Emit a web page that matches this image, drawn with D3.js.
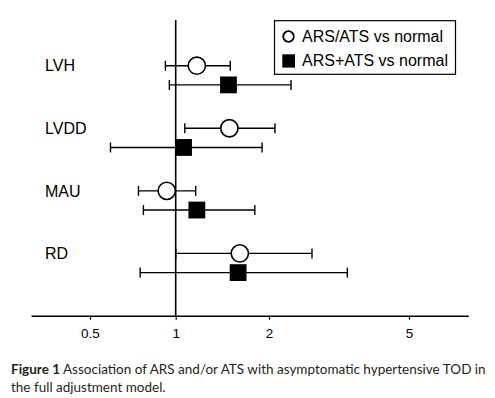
<!DOCTYPE html>
<html>
<head>
<meta charset="utf-8">
<script src="https://cdn.jsdelivr.net/npm/d3@7"></script>
<style>
  body { margin: 0; background: #fff; }
  svg { display: block; }
  .caption { font-family: Lato, "Open Sans", sans-serif; font-size: 13.5px; fill: #231f20; }
</style>
</head>
<body>
<script>
// Width and height
var w = 495;
var h = 398;

// data
var outcomes = ["LVH", "LVDD", "MAU", "RD"];
var seriesNames = ["ARS/ATS vs normal", "ARS+ATS vs normal"];
var orEst1 = [1.17, 1.49, 0.93, 1.61];
var orLow1 = [0.92, 1.07, 0.74, 1.00];
var orHigh1 = [1.50, 2.08, 1.16, 2.65];
var orEst2 = [1.48, 1.06, 1.17, 1.59];
var orLow2 = [0.95, 0.59, 0.77, 0.75];
var orHigh2 = [2.31, 1.90, 1.80, 3.34];
var tickValues = [0.5, 1, 2, 5];

var series = [
    { name: seriesNames[0], est: orEst1, lo: orLow1, hi: orHigh1, shape: "circle", dy: -9.6 },
    { name: seriesNames[1], est: orEst2, lo: orLow2, hi: orHigh2, shape: "square", dy: 9.6 }
];

// log scale, piecewise to follow the printed axis
var xScale = d3.scaleLog()
    .domain([0.31, 0.5, 1, 2, 5, 7.37])
    .range([31, 90, 175.7, 269, 409, 468.3]);

var yScale = d3.scalePoint()
    .domain(outcomes)
    .range([75.3, 263]);

var svg = d3.select("body")
    .append("svg")
    .attr("width", w)
    .attr("height", h);

// axis
var xAxis = d3.axisBottom(xScale)
    .tickValues(tickValues)
    .tickFormat(d3.format(""))
    .tickSizeInner(4)
    .tickSizeOuter(0);

var gx = svg.append("g")
    .attr("transform", "translate(0,315.7)")
    .call(xAxis);
gx.select(".domain").attr("stroke", "#000").attr("stroke-width", 1.6);
gx.selectAll(".tick line").attr("stroke", "#000").attr("stroke-width", 1.2);
gx.selectAll(".tick text")
    .attr("fill", "#000")
    .attr("font-family", "Liberation Sans, Arial, sans-serif")
    .attr("font-size", "13.5px")
    .attr("dy", "1.12em");

// reference line at OR = 1
svg.append("line")
    .attr("x1", xScale(1)).attr("x2", xScale(1))
    .attr("y1", 20).attr("y2", 315.7)
    .attr("stroke", "#000")
    .attr("stroke-width", 1.6);

// row labels
svg.selectAll("text.row")
    .data(outcomes)
    .enter()
    .append("text")
    .attr("class", "row")
    .attr("x", 45)
    .attr("y", d => yScale(d) - 9.6)
    .attr("dy", "0.36em")
    .attr("font-family", "Liberation Sans, Arial, sans-serif")
    .attr("font-size", "16px")
    .text(d => d);

// error bars and markers
series.forEach(function(s) {
    var g = svg.append("g");
    var rows = outcomes.map((o, i) => ({ o: o, est: s.est[i], lo: s.lo[i], hi: s.hi[i] }));

    g.selectAll("line.ci")
        .data(rows)
        .enter()
        .append("line")
        .attr("x1", d => xScale(d.lo))
        .attr("x2", d => xScale(d.hi))
        .attr("y1", d => yScale(d.o) + s.dy)
        .attr("y2", d => yScale(d.o) + s.dy)
        .attr("stroke", "#000")
        .attr("stroke-width", 1.4);

    ["lo", "hi"].forEach(function(k) {
        g.selectAll("line.cap-" + k)
            .data(rows)
            .enter()
            .append("line")
            .attr("x1", d => xScale(d[k]))
            .attr("x2", d => xScale(d[k]))
            .attr("y1", d => yScale(d.o) + s.dy - 5)
            .attr("y2", d => yScale(d.o) + s.dy + 5)
            .attr("stroke", "#000")
            .attr("stroke-width", 1.4);
    });

    if (s.shape == "circle") {
        g.selectAll("circle")
            .data(rows)
            .enter()
            .append("circle")
            .attr("cx", d => xScale(d.est))
            .attr("cy", d => yScale(d.o) + s.dy)
            .attr("r", 8.6)
            .attr("fill", "#fff")
            .attr("stroke", "#000")
            .attr("stroke-width", 1.6);
    } else {
        g.selectAll("rect")
            .data(rows)
            .enter()
            .append("rect")
            .attr("x", d => xScale(d.est) - 8.4)
            .attr("y", d => yScale(d.o) + s.dy - 8.4)
            .attr("width", 16.8)
            .attr("height", 16.8)
            .attr("fill", "#000");
    }
});

// legend
var legend = svg.append("g");
legend.append("rect")
    .attr("x", 274.5).attr("y", 20.7)
    .attr("width", 181).attr("height", 53.6)
    .attr("fill", "#fff")
    .attr("stroke", "#000")
    .attr("stroke-width", 1.2);
legend.append("circle")
    .attr("cx", 288.5).attr("cy", 36.5).attr("r", 5.3)
    .attr("fill", "#fff").attr("stroke", "#000").attr("stroke-width", 1.8);
legend.append("rect")
    .attr("x", 282.3).attr("y", 54.3).attr("width", 12.7).attr("height", 13.3)
    .attr("fill", "#000");
legend.selectAll("text")
    .data(seriesNames)
    .enter()
    .append("text")
    .attr("x", 302)
    .attr("y", (d, i) => 36.5 + i * 24)
    .attr("dy", "0.36em")
    .attr("font-family", "Liberation Sans, Arial, sans-serif")
    .attr("font-size", "16px")
    .text(d => d);

// caption
var cap = svg.append("text").attr("class", "caption").attr("x", 11).attr("y", 374);
cap.append("tspan").attr("font-weight", "bold").text("Figure 1");
cap.append("tspan").text(" Association of ARS and/or ATS with asymptomatic hypertensive TOD in");
svg.append("text").attr("class", "caption").attr("x", 11).attr("y", 392)
    .text("the full adjustment model.");
</script>
</body>
</html>
